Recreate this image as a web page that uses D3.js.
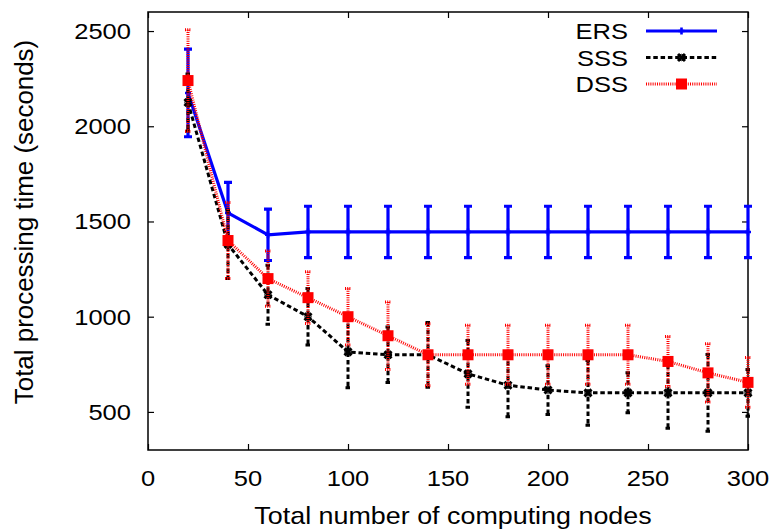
<!DOCTYPE html>
<html>
<head>
<meta charset="utf-8">
<script src="https://cdn.jsdelivr.net/npm/d3@7"></script>
<style>
  html, body { margin: 0; padding: 0; background: #fff; }
  svg text { font-family: "Liberation Sans", Arial, Helvetica, sans-serif; fill: #000; }
</style>
</head>
<body>
<svg id="chart" width="776" height="530"></svg>
<script>
// Number of computing nodes on the x axis
const nodes = [20, 40, 60, 80, 100, 120, 140, 160, 180, 200, 220, 240, 260, 280, 300];

// Mean processing time (seconds) and error-bar half-widths for each scheme
const ers    = [2175, 1545, 1430, 1445, 1445, 1445, 1445, 1445, 1445, 1445, 1445, 1445, 1445, 1445, 1445];
const ersErr = [230, 160, 135, 135, 135, 135, 135, 135, 135, 135, 135, 135, 135, 135, 135];

const sss    = [2125, 1380, 1115, 1000, 815, 800, 800, 700, 640, 615, 600, 600, 600, 600, 600];
const sssErr = [150, 180, 155, 148, 188, 146, 170, 175, 165, 128, 170, 105, 186, 202, 123];

const dss    = [2240, 1400, 1200, 1100, 1000, 900, 800, 800, 800, 800, 800, 800, 765, 705, 655];
const dssErr = [267, 200, 145, 136, 148, 177, 163, 155, 155, 155, 155, 155, 131, 153, 131];

const seriesNames = ["ERS", "SSS", "DSS"];
const xTicks = [0, 50, 100, 150, 200, 250, 300];
const yTicks = [500, 1000, 1500, 2000, 2500];
const xTitle = "Total number of computing nodes";
const yTitle = "Total processing time (seconds)";

const svg = d3.select("#chart");
const plot = { left: 148, top: 12, right: 748, bottom: 450 };
const stretch = 1.16;   // horizontal stretch of the lettering

const x = d3.scaleLinear().domain([0, 300]).range([plot.left, plot.right]);
const y = d3.scaleLinear().domain([300, 2600]).range([plot.bottom, plot.top]);

function label(sel, tx, ty, anchor, sx) {
  return sel.attr("transform", `translate(${tx},${ty}) scale(${sx || stretch},1)`)
            .attr("text-anchor", anchor);
}

// Axes with inward ticks, mirrored on top and right
const tickLen = 6;
const axisB = d3.axisBottom(x).tickValues(xTicks).tickSizeInner(-tickLen).tickSizeOuter(0).tickFormat("");
const axisT = d3.axisTop(x).tickValues(xTicks).tickSizeInner(-tickLen).tickSizeOuter(0).tickFormat("");
const axisL = d3.axisLeft(y).tickValues(yTicks).tickSizeInner(-tickLen).tickSizeOuter(0).tickFormat("");
const axisR = d3.axisRight(y).tickValues(yTicks).tickSizeInner(-tickLen).tickSizeOuter(0).tickFormat("");

const axes = svg.append("g");
axes.append("g").attr("transform", `translate(0,${plot.bottom})`).call(axisB);
axes.append("g").attr("transform", `translate(0,${plot.top})`).call(axisT);
axes.append("g").attr("transform", `translate(${plot.left},0)`).call(axisL);
axes.append("g").attr("transform", `translate(${plot.right},0)`).call(axisR);
axes.selectAll(".domain").remove();
axes.selectAll(".tick line").attr("stroke", "#000").attr("stroke-width", 1.2);

// Frame
svg.append("rect")
  .attr("x", plot.left).attr("y", plot.top)
  .attr("width", plot.right - plot.left).attr("height", plot.bottom - plot.top)
  .attr("fill", "none").attr("stroke", "#000").attr("stroke-width", 1.5);

// Tick labels
svg.append("g").selectAll("text").data(xTicks).join("text")
  .each(function (d) { label(d3.select(this), x(d), 486, "middle"); })
  .style("font-size", "22px").text(d => d);
svg.append("g").selectAll("text").data(yTicks).join("text")
  .each(function (d) { label(d3.select(this), 131, y(d) + 8, "end"); })
  .style("font-size", "22px").text(d => d);

// Axis titles
label(svg.append("text"), 453, 524, "middle", 1.12)
  .style("font-size", "24px").text(xTitle);
svg.append("text")
  .attr("transform", "translate(33,222) rotate(-90) scale(1.08,1.1)")
  .attr("text-anchor", "middle")
  .style("font-size", "24px").text(yTitle);

// Series styles
const styles = {
  ERS: { color: "#0000ff", width: 3.2, dash: null, cap: 4 },
  SSS: { color: "#000000", width: 3, dash: "4.5,2.8", cap: 2.5 },
  DSS: { color: "#ff0000", width: 3, dash: "1,1.2", cap: 3 }
};
const seriesData = {
  ERS: nodes.map((n, i) => ({ n, v: ers[i], e: ersErr[i] })),
  SSS: nodes.map((n, i) => ({ n, v: sss[i], e: sssErr[i] })),
  DSS: nodes.map((n, i) => ({ n, v: dss[i], e: dssErr[i] }))
};

function drawMarker(g, name, cx, cy, st) {
  if (name === "ERS") {
    g.append("path").attr("d", `M${cx - 3},${cy}H${cx + 3}M${cx},${cy - 3.5}V${cy + 3.5}`)
      .attr("stroke", st.color).attr("stroke-width", 2.6).attr("fill", "none");
  } else if (name === "SSS") {
    g.append("path").attr("d", `M${cx - 3.5},${cy - 3.5}L${cx + 3.5},${cy + 3.5}M${cx - 3.5},${cy + 3.5}L${cx + 3.5},${cy - 3.5}`)
      .attr("stroke", st.color).attr("stroke-width", 3).attr("fill", "none");
    g.append("circle").attr("cx", cx).attr("cy", cy).attr("r", 3.2)
      .attr("stroke", st.color).attr("stroke-width", 1).attr("fill", "none");
  } else {
    g.append("rect").attr("x", cx - 5.5).attr("y", cy - 5.5).attr("width", 11).attr("height", 11)
      .attr("fill", st.color);
  }
}

const line = d3.line().x(d => x(d.n)).y(d => y(d.v));

seriesNames.forEach(name => {
  const st = styles[name];
  const data = seriesData[name];
  const g = svg.append("g");

  // Error bars with caps
  const bars = g.append("g");
  data.forEach(d => {
    const px = x(d.n), y1 = y(d.v + d.e), y2 = y(d.v - d.e);
    bars.append("path")
      .attr("d", `M${px},${y1}V${y2}M${px - st.cap},${y1}H${px + st.cap}M${px - st.cap},${y2}H${px + st.cap}`)
      .attr("stroke", st.color).attr("stroke-width", st.width).attr("fill", "none")
      .attr("stroke-dasharray", st.dash);
  });

  // Connecting line
  g.append("path").datum(data).attr("d", line)
    .attr("fill", "none").attr("stroke", st.color).attr("stroke-width", st.width)
    .attr("stroke-dasharray", st.dash);

  // Point markers
  data.forEach(d => drawMarker(g, name, x(d.n), y(d.v), st));
});

// Legend
const legendRows = [31, 57.5, 84];
seriesNames.forEach((name, i) => {
  const st = styles[name];
  const ly = legendRows[i];
  const g = svg.append("g");
  label(g.append("text"), 628, ly + 8, "end").style("font-size", "22px").text(name);
  g.append("path").attr("d", `M646,${ly}H717`)
    .attr("stroke", st.color).attr("stroke-width", st.width).attr("fill", "none")
    .attr("stroke-dasharray", st.dash);
  drawMarker(g, name, 681.5, ly, st);
});
</script>
</body>
</html>
